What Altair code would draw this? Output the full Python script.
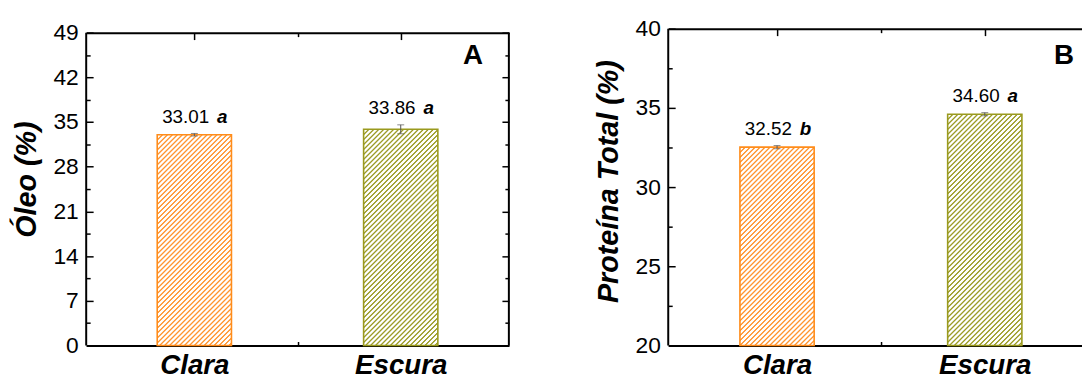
import json
import altair as alt
import pandas as pd

# ---------------- data ----------------
categories = ["Clara", "Escura"]
oleo_values = [33.01, 33.86]
oleo_errors = [0.2, 0.7]
oleo_letters = ["a", "a"]
proteina_values = [32.52, 34.60]
proteina_errors = [0.1, 0.1]
proteina_letters = ["b", "a"]
oleo_ticks = [0, 7, 14, 21, 28, 35, 42, 49]
proteina_ticks = [20, 25, 30, 35, 40]
panel_letters = ["A", "B"]
y_titles = ["Óleo (%)", "Proteína Total (%)"]

# ---------------- style ----------------
FONT = "Liberation Sans"
bar_colors = ["#FF8C1A", "#9A9A1E"]
hatch_colors = ["#FF9530", "#9C9C26"]
BAR_W = 75
H = 320


def hatch(color, w, h, period=5.0):
    U = w + h
    c = U / (w * w + h * h)
    profile = [(0.0, color), (0.8, color), (1.9, "white"), (3.9, "white")]
    stops = []
    k = 0
    while k * period < U:
        for du, col in profile:
            u = k * period + du
            if u <= U:
                stops.append(alt.GradientStop(offset=u / U, color=col))
        k += 1
    return alt.LinearGradient(gradient="linear", stops=stops,
                              x1=0, y1=0, x2=w * c, y2=h * c)


def panel(values, errors, letters, ticks, title, letter, W_full, W_vis, top_gap,
          letter_x, letter_y, title_shift, right_frame=True):
    ymin, ymax = ticks[0], ticks[-1]
    ytop = ymax + (ymax - ymin) * top_gap / (H - top_gap)
    n = len(categories)
    df = pd.DataFrame({
        "cat": categories,
        "pos": [2 * i + 1 for i in range(n)],
        "value": values,
        "base": [ymin] * n,
        "lo": [v - e for v, e in zip(values, errors)],
        "hi": [v + e for v, e in zip(values, errors)],
        "num": [f"{v:.2f}" for v in values],
        "letter": letters,
    })
    frame = pd.DataFrame({"lo": [ymin], "hi": [ymax]})
    xs = alt.Scale(domain=[0, 2 * n * W_vis / W_full], nice=False, zero=False)
    ys = alt.Scale(domain=[ymin, ytop], nice=False, zero=False)

    all_y = sorted(ticks + [(a + b) / 2 for a, b in zip(ticks, ticks[1:])])
    majors_x = [2 * i + 1 for i in range(n)]
    all_x = list(range(1, 2 * n))

    tick_cond_y = {"condition": {"test": f"indexof({json.dumps(ticks)}, datum.value) >= 0", "value": 7}, "value": 4}
    tick_cond_x = {"condition": {"test": f"indexof({json.dumps(majors_x)}, datum.value) >= 0", "value": 7}, "value": 4}
    inner = dict(labels=False, grid=False, title=None, tickColor="black", tickWidth=1.5,
                 domainColor="black", domainWidth=2)

    y_label_axis = alt.Axis(orient="left", values=ticks, ticks=False, domain=False, grid=False,
                            labelFontSize=23, labelColor="black", labelPadding=8, labelFont=FONT,
                            title=title, titleFontSize=29, titleFontWeight="bold", titleFontStyle="italic",
                            titleColor="black", titlePadding=12, titleFont=FONT,
                            titleY=H / 2 + top_gap / 2 + title_shift)
    y_in_left = alt.Axis(orient="right", offset=-W_vis, values=all_y, tickSize=tick_cond_y, domain=False, **inner)
    y_in_right = (alt.Axis(orient="left", offset=-W_vis, values=all_y, tickSize=tick_cond_y, domain=False, **inner)
                  if right_frame else None)
    x_label_axis = alt.Axis(orient="bottom", values=majors_x, ticks=False, domain=True, domainColor="black",
                            domainWidth=2, grid=False,
                            labelExpr=f"{json.dumps(categories)}[(datum.value - 1) / 2]",
                            labelFontSize=28, labelFontWeight="bold", labelFontStyle="italic",
                            labelColor="black", labelPadding=6, labelFont=FONT, title=None)
    x_in_bottom = alt.Axis(orient="top", offset=-H, values=all_x, tickSize=tick_cond_x, domain=False, **inner)
    x_in_top = alt.Axis(orient="bottom", offset=-(H - top_gap), values=all_x, tickSize=tick_cond_x,
                        domain=True, **inner)

    base = alt.Chart(df)
    layers = []
    for i, cat in enumerate(categories):
        h = (values[i] - ymin) / (ytop - ymin) * H
        if i == 0:
            xa, ya = x_label_axis, y_label_axis
        elif i == 1:
            xa, ya = x_in_bottom, y_in_left
        else:
            xa, ya = None, None
        layers.append(
            base.transform_filter(alt.datum.cat == cat)
            .mark_bar(size=BAR_W, fill=hatch(hatch_colors[i], BAR_W, h), stroke=bar_colors[i], strokeWidth=1.6)
            .encode(x=alt.X("pos:Q", scale=xs, axis=xa), y=alt.Y("value:Q", scale=ys, axis=ya), y2="base:Q")
        )
    layers.append(
        base.mark_rule(color="#555555", strokeWidth=1).encode(
            x=alt.X("pos:Q", scale=xs, axis=x_in_top),
            y=alt.Y("lo:Q", scale=ys, axis=y_in_right), y2="hi:Q")
    )
    for f in ["lo", "hi"]:
        layers.append(
            base.mark_tick(orient="horizontal", size=7, thickness=1, color="#555555").encode(
                x=alt.X("pos:Q", scale=xs, axis=None), y=alt.Y(f"{f}:Q", scale=ys, axis=None))
        )
    sides = [0, W_vis] if right_frame else [0]
    for sx in sides:
        layers.append(
            alt.Chart(frame).mark_rule(color="black", strokeWidth=2).encode(
                x=alt.value(sx), y=alt.Y("lo:Q", scale=ys, axis=None), y2="hi:Q")
        )
    layers.append(
        base.mark_text(align="right", baseline="alphabetic", dx=15, dy=-10.5, fontSize=19,
                       font=FONT, color="black").encode(
            x=alt.X("pos:Q", scale=xs, axis=None), y=alt.Y("hi:Q", scale=ys, axis=None), text="num:N")
    )
    layers.append(
        base.mark_text(align="left", baseline="alphabetic", dx=23, dy=-10.5, fontSize=19,
                       font=FONT, fontWeight="bold", fontStyle="italic", color="black").encode(
            x=alt.X("pos:Q", scale=xs, axis=None), y=alt.Y("hi:Q", scale=ys, axis=None), text="letter:N")
    )
    layers.append(
        alt.Chart(pd.DataFrame({"t": [letter]})).mark_text(
            align="right", baseline="alphabetic", fontSize=28, fontWeight="bold", font=FONT, color="black"
        ).encode(x=alt.value(letter_x), y=alt.value(letter_y), text="t:N")
    )
    return (alt.layer(*layers)
            .resolve_axis(x="independent", y="independent")
            .properties(width=W_vis, height=H))


left = panel(oleo_values, oleo_errors, oleo_letters, oleo_ticks, y_titles[0], panel_letters[0],
             W_full=427, W_vis=427, top_gap=4, letter_x=401, letter_y=36, title_shift=-10,
             right_frame=True)
right = panel(proteina_values, proteina_errors, proteina_letters, proteina_ticks, y_titles[1], panel_letters[1],
              W_full=430, W_vis=418, top_gap=0, letter_x=410, letter_y=36, title_shift=-6,
              right_frame=False)

chart = (
    alt.hconcat(left, right, spacing=85)
    .resolve_scale(x="independent", y="independent")
    .properties(padding={"left": 4, "top": 8, "right": 0, "bottom": 0}, background="white")
    .configure_view(stroke=None)
)

chart.save("out.html", embed_options={"renderer": "svg", "actions": False})
